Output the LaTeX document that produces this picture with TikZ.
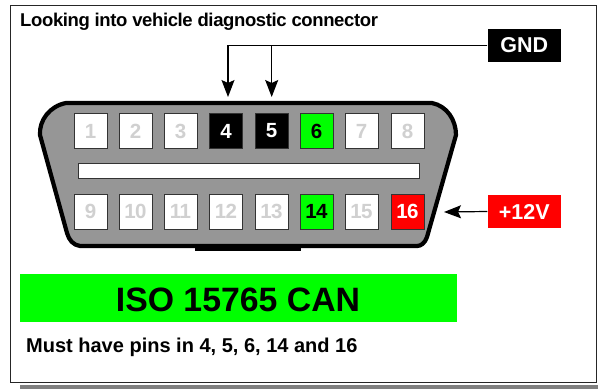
\documentclass[tikz,border=0pt]{standalone}
\usepackage{fontspec}
\setmainfont{Liberation Sans}
\usetikzlibrary{arrows.meta}
\definecolor{pingrey}{HTML}{D0D0D0}
\definecolor{bodygrey}{HTML}{969696}
\definecolor{shadowgrey}{HTML}{808080}
\definecolor{pure green}{HTML}{00FF00}
\tikzset{
  pinbox/.style={draw=black!80,line width=1pt,minimum width=33pt,minimum height=35pt,inner sep=0pt,font=\bfseries\fontsize{20.5}{20.5}\selectfont\addfontfeature{LetterSpace=-3}},
  offpin/.style={pinbox,fill=white,text=pingrey},
  gndpin/.style={pinbox,fill=black,text=white},
  canpin/.style={pinbox,fill=pure green,text=black},
  powpin/.style={pinbox,fill=red,text=white},
  tag/.style={minimum width=73.5pt,minimum height=33.5pt,inner sep=0pt,font=\bfseries\fontsize{21.5}{21.5}\selectfont},
  wire/.style={line width=1.2pt,black},
  tip/.style={-{Stealth[length=17pt,width=13pt,inset=3pt]}},
}
\begin{document}
\begin{tikzpicture}[x=1pt,y=-1pt]
\useasboundingbox (0,0) rectangle (598,389);
\fill[white] (0,0) rectangle (598,389);
\fill[shadowgrey] (20,385) rectangle (598,389);
\draw[black!85,line width=1pt] (10.5,5.5) rectangle (596,382);
% connector shell
\fill[black] (195,245) rectangle (301,251);
\draw[fill=bodygrey,line width=4.2pt,line join=round]
  (66,103) -- (432,103) .. controls (447,106) and (456,120) .. (456,135)
  -- (427,237) .. controls (425,243) and (421,246) .. (417,246)
  -- (80,246) .. controls (73,245) and (69,240) .. (67,233)
  -- (40,135) .. controls (39,120) and (50,106) .. (66,103) -- cycle;
\draw[draw=black!80,fill=white,line width=1pt] (78,163.5) rectangle (419,178.5);
% pins
\foreach \n/\x/\s in {1/90.5/offpin,2/135.5/offpin,3/180.5/offpin,4/226/gndpin,5/271.5/gndpin,6/316.5/canpin,7/361.5/offpin,8/407.5/offpin}
  \node[\s] (p\n) at (\x,131) {\n};
\foreach \n/\x/\s in {9/90.5/offpin,10/135.5/offpin,11/180.5/offpin,12/226/offpin,13/271.5/offpin,14/316.5/canpin,15/361.5/offpin,16/407.5/powpin}
  \node[\s] (p\n) at (\x,211.5) {\n};
% labels
\node[anchor=west,inner sep=0pt,font=\bfseries\fontsize{18.5}{18.5}\selectfont] (title) at (20,22) {\addfontfeature{LetterSpace=-2}Looking into vehicle diagnostic connector};
\node[tag,fill=black,text=white] (gnd) at (524.25,45.25) {GND};
\node[tag,fill=red,text=white] (pow) at (524.25,211.5) {+12V};
\node[fill=pure green,minimum width=437pt,minimum height=48pt,inner sep=0pt] (banner) at (238.5,298) {};
\node[font=\bfseries\fontsize{33.8}{33.8}\selectfont,inner sep=0pt] (bannertext) at (238,300) {ISO 15765 CAN};
\node[anchor=west,inner sep=0pt,font=\bfseries\fontsize{20}{20}\selectfont] (must) at (26,347) {Must have pins in 4, 5, 6, 14 and 16};
% connectors
\coordinate (a4) at (228,97);
\coordinate (a5) at (271.7,97);
\coordinate (a16) at (444,212);
\draw[wire,tip] (gnd.west) -| (a4);
\draw[wire,tip] (gnd.west) -| (a5);
\draw[wire,tip] (pow.west) -- (a16);
\end{tikzpicture}
\end{document}
